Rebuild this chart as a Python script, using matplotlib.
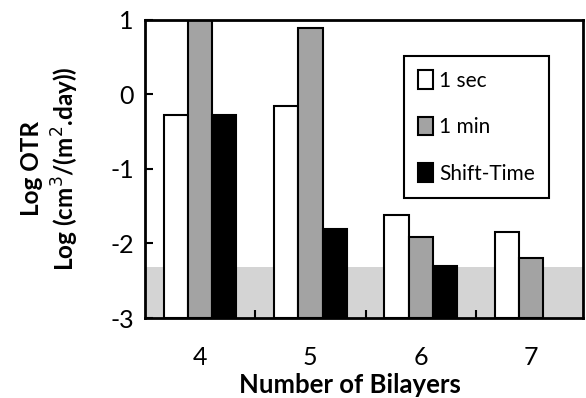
import numpy as np
import matplotlib
matplotlib.use("Agg")
import matplotlib.pyplot as plt

plt.rcParams['font.family'] = ['Lato', 'DejaVu Sans']
plt.rcParams['axes.unicode_minus'] = False

# data
bilayers = ['4', '5', '6', '7']
one_sec = [-0.28, -0.15, -1.62, -1.84]
one_min = [1.05, 0.89, -1.91, -2.20]
shift_time = [-0.27, -1.80, -2.30, np.nan]
detect_limit = -2.31  # shaded band top

ymin = -3
x = np.arange(len(bilayers))
w = 0.22

fig = plt.figure(figsize=(5.86, 3.98), dpi=100)
ax = fig.add_axes([0.247, 0.201, 0.748, 0.749])

# shaded band below detection limit
ax.axhspan(ymin, detect_limit, color='#d4d4d4', zorder=0, lw=0)

# bars grow up from the bottom of the axis
ax.bar(x - w, np.array(one_sec) - ymin, w, bottom=ymin, color='white',
       edgecolor='black', lw=1.5, label='1 sec', zorder=2)
ax.bar(x, np.array(one_min) - ymin, w, bottom=ymin, color='#a3a3a3',
       edgecolor='black', lw=1.5, label='1 min', zorder=2)
ax.bar(x + w, np.array(shift_time) - ymin, w, bottom=ymin, color='black',
       edgecolor='black', lw=1.5, label='Shift-Time', zorder=2)

ax.set_ylim(ymin, 1)
ax.set_xlim(-0.5, 3.47)
ax.set_yticks([-3, -2, -1, 0, 1])
ax.set_xticks(x)
ax.set_xticklabels(bilayers)
ax.set_xticks(x[:-1] + 0.5, minor=True)
ax.tick_params(axis='y', direction='in', length=6, width=1.5, labelsize=18, pad=8)
ax.tick_params(axis='x', which='major', length=0, labelsize=18, pad=20)
ax.tick_params(axis='x', which='minor', direction='in', length=6, width=1.5)
for s in ax.spines.values():
    s.set_linewidth(2)

ax.set_xlabel('Number of Bilayers', fontsize=18.5, fontweight='bold')
ax.xaxis.set_label_coords(0.468, -0.185)
ax.set_ylabel('Log OTR\nLog (cm$^3$/(m$^2$.day))', fontsize=17.5, fontweight='bold',
              linespacing=1.3)
ax.yaxis.set_label_coords(-0.145, 0.5)

leg = ax.legend(loc='upper right', bbox_to_anchor=(0.947, 0.915), fontsize=15, frameon=True,
                fancybox=False, edgecolor='black', framealpha=1, handlelength=0.7,
                handleheight=1.0, handletextpad=0.3, labelspacing=1.25, borderpad=0.7)
leg.get_frame().set_linewidth(1.5)

fig.savefig('out.png', dpi=100)
